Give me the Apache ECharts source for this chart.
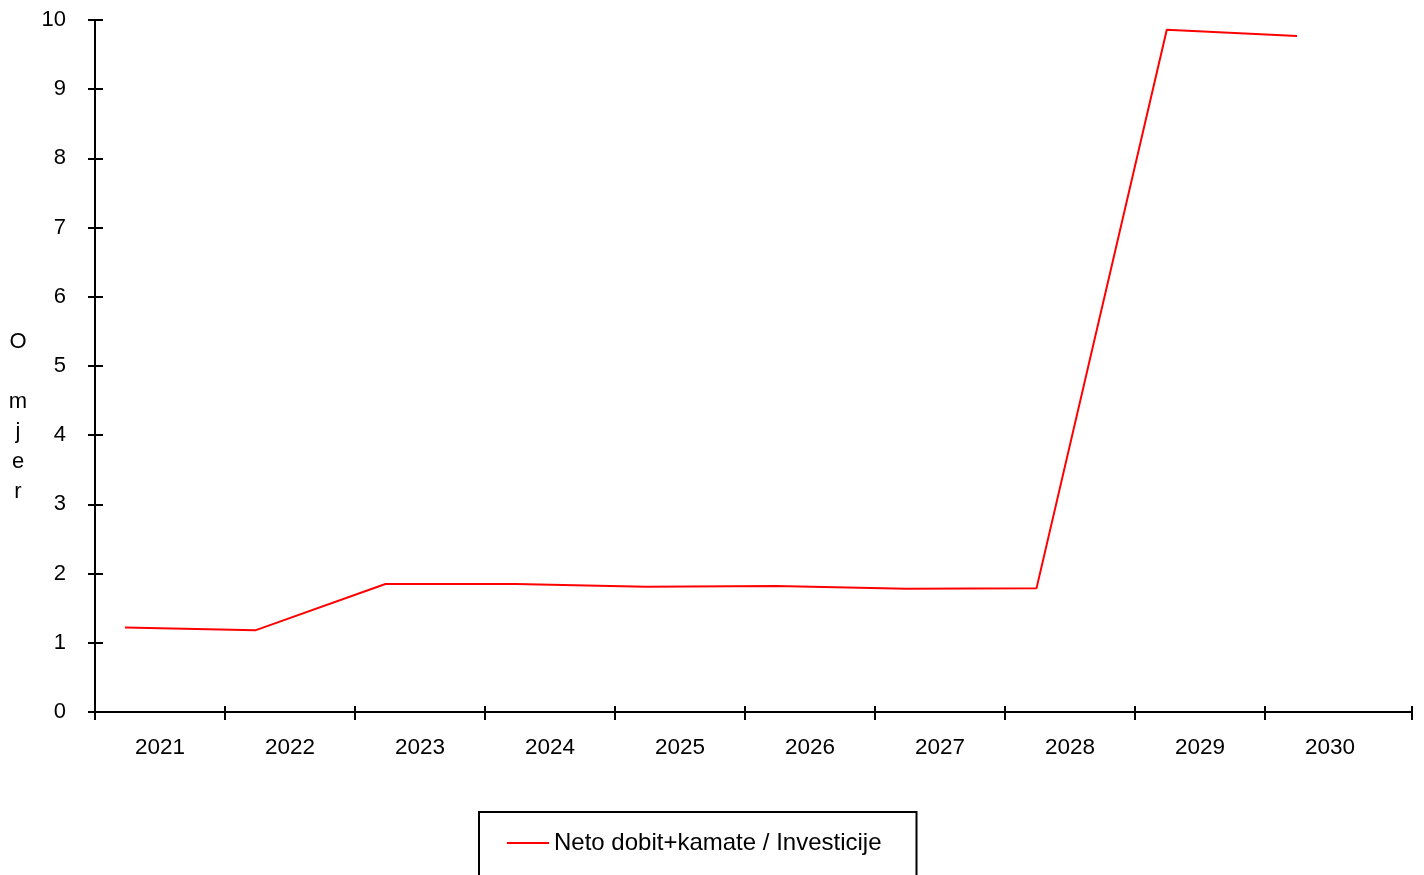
<!DOCTYPE html>
<html>
<head>
<meta charset="utf-8">
<script src="https://cdn.jsdelivr.net/npm/echarts@6/dist/echarts.min.js"></script>
<style>html,body{margin:0;padding:0;background:#fff;}#c{width:1424px;height:875px;}</style>
</head>
<body>
<div id="c"></div>
<script>
const years = ['2021','2022','2023','2024','2025','2026','2027','2028','2029','2030'];
const ratio = [1.22, 1.18, 1.85, 1.85, 1.81, 1.82, 1.78, 1.79, 9.86, 9.77];
const yTicks = [0,1,2,3,4,5,6,7,8,9,10];
const seriesName = 'Neto dobit+kamate / Investicije';
const axisTitle = 'Omjer';

const FONT = 'Liberation Sans, Arial, sans-serif';
const axisMax = 10 + 17/130; // axis line runs a little past the last band
const tickVals = years.map((_, i) => i).concat([axisMax]);
const labelVals = years.map((_, i) => i + 0.5);

const chart = echarts.init(document.getElementById('c'), null, {renderer: 'canvas'});
const lineStyleAxis = {color: '#000', width: 2};
const baseX = {
  type: 'value', gridIndex: 0, position: 'bottom', min: 0, max: axisMax,
  axisLine: {show: true, lineStyle: lineStyleAxis},
  splitLine: {show: false}
};
const baseY = {
  type: 'value', gridIndex: 0, position: 'left', min: yTicks[0], max: yTicks[yTicks.length-1], interval: 1,
  axisLine: {show: true, lineStyle: lineStyleAxis},
  splitLine: {show: false}
};
chart.setOption({
  animation: false,
  backgroundColor: '#fff',
  textStyle: {fontFamily: FONT},
  grid: [
    {left: 95, right: 12, top: 20, bottom: 163},
    {left: 125, right: 127, top: 20, bottom: 163}
  ],
  xAxis: [
    Object.assign({}, baseX, {
      axisTick: {show: true, inside: false, length: 8, lineStyle: lineStyleAxis, customValues: tickVals},
      axisLabel: {show: true, customValues: labelVals, margin: 24, color: '#000', fontSize: 22.5, fontFamily: FONT,
        formatter: v => years[Math.round(v - 0.5)] || ''}
    }),
    Object.assign({}, baseX, {
      axisTick: {show: true, inside: true, length: 6, lineStyle: lineStyleAxis, customValues: tickVals},
      axisLabel: {show: false}
    }),
    {type: 'category', gridIndex: 1, data: years, boundaryGap: false, show: false}
  ],
  yAxis: [
    Object.assign({}, baseY, {
      axisTick: {show: true, inside: false, length: 7, lineStyle: lineStyleAxis},
      axisLabel: {show: true, margin: 29, color: '#000', fontSize: 22, fontFamily: FONT}
    }),
    Object.assign({}, baseY, {
      axisTick: {show: true, inside: true, length: 8, lineStyle: lineStyleAxis},
      axisLabel: {show: false}
    }),
    {type: 'value', gridIndex: 1, min: yTicks[0], max: yTicks[yTicks.length-1], show: false}
  ],
  legend: {
    left: 479, top: 812,
    padding: [19, 35, 40, 28],
    borderColor: '#000', borderWidth: 2,
    itemWidth: 42, itemHeight: 22,
    icon: 'path://M0,10 L42,10 L42,12 L0,12 Z',
    itemStyle: {color: '#ff0000'},
    textStyle: {color: '#000', fontSize: 24, fontFamily: FONT},
    data: [seriesName]
  },
  graphic: [{
    type: 'text', x: 18, y: 327,
    style: {text: axisTitle.split('').join('\n').replace('O\n', 'O\n\n'), font: '22px ' + FONT, fill: '#000', lineHeight: 30, align: 'center', verticalAlign: 'top'}
  }],
  series: [{
    name: seriesName, type: 'line', xAxisIndex: 2, yAxisIndex: 2,
    data: ratio, showSymbol: false, symbol: 'none',
    lineStyle: {color: '#ff0000', width: 2}, itemStyle: {color: '#ff0000'}
  }]
});
</script>
</body>
</html>
